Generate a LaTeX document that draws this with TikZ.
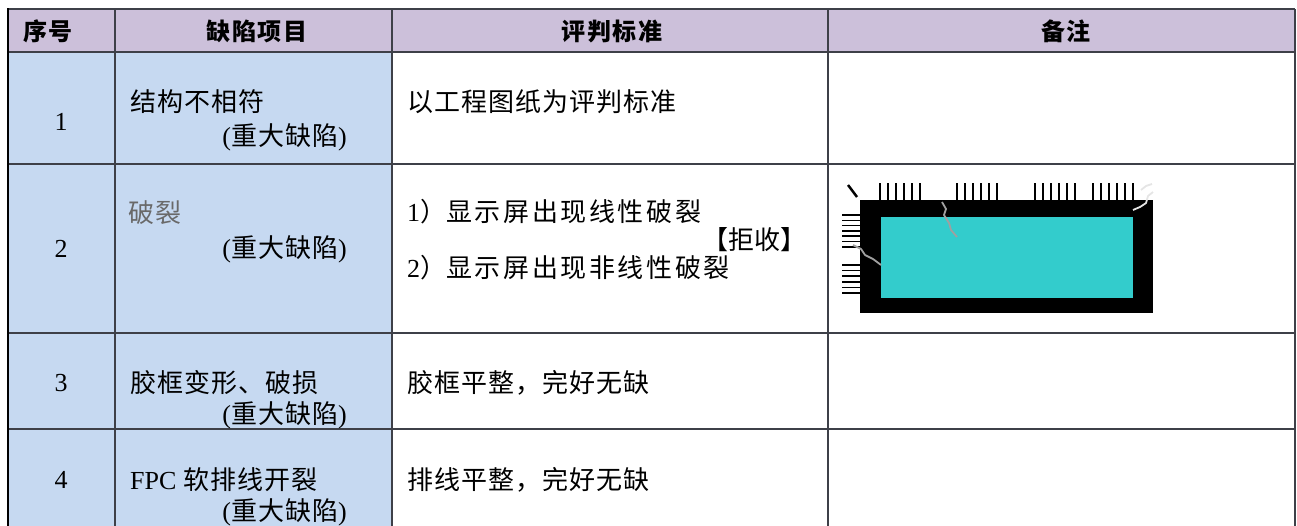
\documentclass[tikz,border=0pt]{standalone}
\usepackage{fontspec}
\setmainfont{Liberation Serif}
\newfontfamily\cjk[LetterSpace=4]{Noto Sans CJK SC}
\newfontfamily\cjkwide[LetterSpace=10]{Noto Sans CJK SC}
\newfontfamily\cjkplain{Noto Sans CJK SC}
\newfontfamily\cjkhead[LetterSpace=6]{Noto Sans CJK SC}
\definecolor{HeadLilac}{RGB}{204, 192, 218}
\definecolor{ItemBlue}{RGB}{198, 217, 241}
\definecolor{GridGray}{RGB}{62, 64, 72}
\definecolor{ScreenCyan}{RGB}{51, 204, 204}
\definecolor{CrackGray}{RGB}{160, 160, 160}
\definecolor{FaintText}{RGB}{105, 105, 105}
\usepackage{tikz}
\newcommand{\zd}{{\rmfamily(}重大缺陷{\rmfamily)}}

\begin{document}
\begin{tikzpicture}[
        x=1pt, y=-1pt,
        head/.style={font=\fontsize{24}{28}\selectfont\cjkhead\bfseries, inner sep=0pt},
        num/.style={font=\fontsize{26}{30}\selectfont, inner sep=0pt},
        item/.style={font=\fontsize{26}{30}\selectfont\cjk, inner sep=0pt, anchor=west},
        major/.style={font=\fontsize{26}{30}\selectfont\cjk, inner sep=0pt, anchor=east},
        crit/.style={font=\fontsize{26}{30}\selectfont\cjk, inner sep=0pt, anchor=west},
        tableline/.style={draw=GridGray, line width=2pt},
        tick/.style={draw=black, line width=1.5pt},
        crack/.style={draw=CrackGray, line width=1.8pt, line join=round}
    ]
        \useasboundingbox (0,0) rectangle (1297,525);
        \clip (0,0) rectangle (1297,525);

        % cell fills
        \fill[HeadLilac] (8,9) rectangle (1295,52);
        \fill[ItemBlue] (8,52) rectangle (392,530);

        % table rules
        \draw[tableline] (8,9) -- (1295,9);
        \draw[tableline] (8,52) -- (1295,52);
        \draw[tableline] (8,164) -- (1295,164);
        \draw[tableline] (8,333) -- (1295,333);
        \draw[tableline] (8,429) -- (1295,429);
        \draw[tableline, draw=black] (8,8) -- (8,530);
        \draw[tableline] (115,9) -- (115,530);
        \draw[tableline] (392,9) -- (392,530);
        \draw[tableline] (828,9) -- (828,530);
        \draw[tableline] (1295,9) -- (1295,530);

        % header
        \node [head] (hNo) at (48,31) {序号};
        \node [head] (hItem) at (257,31) {缺陷项目};
        \node [head] (hCrit) at (612,31) {评判标准};
        \node [head] (hNote) at (1066,31) {备注};

        % row 1
        \node [num] (n1) at (61,122) {1};
        \node [item] (item1) at (130,102) {结构不相符};
        \node [major] (major1) at (347,137) {\zd};
        \node [crit] (crit1) at (407,102) {以工程图纸为评判标准};

        % row 2
        \node [num] (n2) at (61,249) {2};
        \node [item, text=FaintText] (item2) at (128,213) {破裂};
        \node [major] (major2) at (347,249) {\zd};
        \node [crit] (crit2a) at (407,212) {{\rmfamily 1}\cjkplain ）\cjkwide 显示屏出现线性破裂};
        \node [crit, anchor=east] (reject) at (807,240) {\cjkplain 【拒收】};
        \node [crit] (crit2b) at (407,268) {{\rmfamily 2}\cjkplain ）\cjkwide 显示屏出现非线性破裂};

        % cracked screen sketch
        \fill (860,200) rectangle (1153,313);
        \fill[ScreenCyan] (881,217) rectangle (1133,298);
        \foreach \g in {880,957,1035,1093}
            \foreach \i in {0,...,5}
                \draw[tick] (\g+8*\i,183) -- (\g+8*\i,200);
        \foreach \i in {0,...,6}
            \draw[tick] (842,215+5.3*\i) -- (860,215+5.3*\i);
        \foreach \i in {0,...,5}
            \draw[tick] (842,265+5.6*\i) -- (860,265+5.6*\i);
        \draw[line width=2.5pt] (848,185) -- (857,197);
        \draw[crack] (942,202) -- (946,209) -- (944,215) -- (949,223) -- (951,230) -- (957,237);
        \draw[crack] (853,245) -- (861,249) -- (865,255) -- (873,259) -- (881,265);
        \draw[crack, draw=white!80!gray] (1133,210) -- (1140,207) -- (1146,203) -- (1148,196) -- (1153,192);
        \draw[crack, draw=white!80!gray] (1141,190) -- (1146,186) -- (1152,184);

        % row 3
        \node [num] (n3) at (61,383) {3};
        \node [item] (item3) at (130,383) {胶框变形、破损};
        \node [major] (major3) at (347,415) {\zd};
        \node [crit] (crit3) at (407,383) {胶框平整，完好无缺};

        % row 4
        \node [num] (n4) at (61,480) {4};
        \node [item] (item4) at (130,480) {{\rmfamily FPC} 软排线开裂};
        \node [major] (major4) at (347,512) {\zd};
        \node [crit] (crit4) at (407,480) {排线平整，完好无缺};
    \end{tikzpicture}
\end{document}
